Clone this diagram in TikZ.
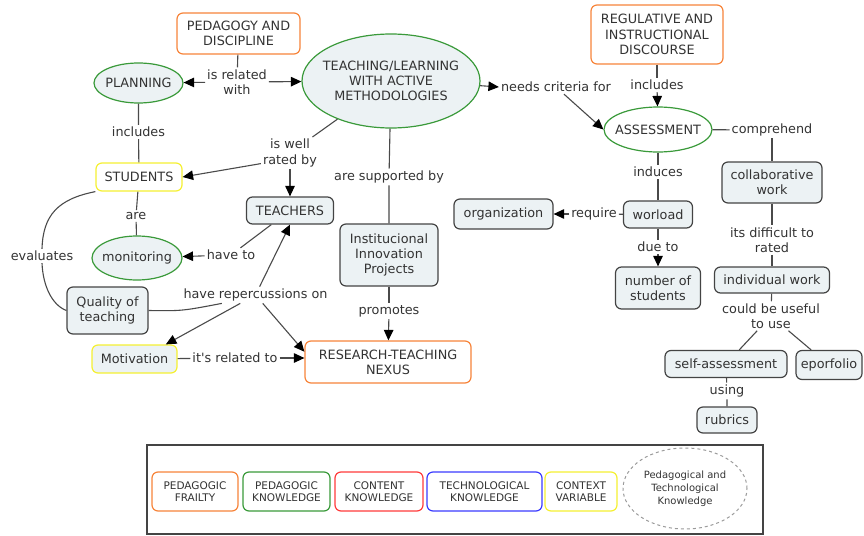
\documentclass[tikz,border=0pt]{standalone}
\usepackage{fontspec}
\setmainfont{DejaVu Sans}
\usetikzlibrary{shapes.geometric,arrows.meta}

\definecolor{ink}{HTML}{333333}
\definecolor{linkgray}{HTML}{4A4A4A}
\definecolor{boxedge}{HTML}{444444}
\definecolor{boxfill}{HTML}{ECF2F4}
\definecolor{corange}{HTML}{F7843A}
\definecolor{cgreen}{HTML}{3A9A3A}
\definecolor{cred}{HTML}{FF3B3B}
\definecolor{cblue}{HTML}{3B3BFF}
\definecolor{cyellow}{HTML}{F5F032}
\definecolor{dashgray}{HTML}{9A9A9A}

\newcommand\mapfont{\fontsize{12.8}{15.2}\selectfont}
\newcommand\keyfont{\fontsize{10.5}{12.5}\selectfont}
\newcommand\keysmall{\fontsize{10}{13}\selectfont}

\tikzset{
  concept/.style={draw, rounded corners=6pt, line width=1.2pt, align=center,
    inner sep=2pt, text=ink, font=\mapfont},
  graybox/.style={concept, draw=boxedge, fill=boxfill},
  orangebox/.style={concept, draw=corange, fill=white},
  yellowbox/.style={concept, draw=cyellow, fill=white},
  % ellipse of fixed size; its text is set as a centred label
  oval/.style={ellipse, draw=cgreen, line width=1.2pt, fill=boxfill, inner sep=0pt,
    label={[align=center, text=ink, font=\mapfont]center:#1}},
  phrase/.style={align=center, inner sep=2pt, text=ink, font=\mapfont},
  link/.style={draw=linkgray, line width=1.1pt},
  arr/.style={link, -{Triangle[length=10.5pt,width=9.5pt,color=black]}},
  keybox/.style={draw, rounded corners=6pt, line width=1.2pt, fill=white, align=center,
    inner sep=1pt, text=ink, font=\keyfont, minimum height=39pt},
}

\begin{document}
\begin{tikzpicture}[x=1pt,y=-1pt]
\useasboundingbox (0,0) rectangle (864,535);

% ---- concepts ----
\node[orangebox, minimum width=123pt, minimum height=41pt] (ped) at (238.5,33.5) {PEDAGOGY AND\\DISCIPLINE};
\node[oval={PLANNING}, minimum width=89pt, minimum height=40pt] (planning) at (138.5,83) {};
\node[oval={TEACHING/LEARNING\\WITH ACTIVE\\METHODOLOGIES}, minimum width=178pt, minimum height=94pt] (teach) at (391,81) {};
\node[orangebox, minimum width=132pt, minimum height=59pt] (regul) at (657,34.5) {REGULATIVE AND\\INSTRUCTIONAL\\DISCOURSE};
\node[oval={ASSESSMENT}, fill=white, minimum width=108pt, minimum height=45pt] (assess) at (658,129.5) {};
\node[yellowbox, minimum width=86pt, minimum height=28pt] (students) at (139,177) {STUDENTS};
\node[graybox, minimum width=87pt, minimum height=27pt] (teachers) at (290,210.5) {TEACHERS};
\node[oval={monitoring}, minimum width=90pt, minimum height=44pt] (monitor) at (137,258) {};
\node[graybox, minimum width=81pt, minimum height=47pt] (quality) at (107.5,310.5) {Quality of\\teaching};
\node[yellowbox, fill=boxfill, minimum width=85pt, minimum height=28pt] (motiv) at (134.5,359) {Motivation};
\node[graybox, minimum width=98pt, minimum height=62pt] (inst) at (389,255) {Institucional\\Innovation\\Projects};
\node[orangebox, minimum width=166pt, minimum height=42pt] (research) at (388,362) {RESEARCH-TEACHING\\NEXUS};
\node[graybox, minimum width=99pt, minimum height=30pt] (organ) at (503.5,214) {organization};
\node[graybox, minimum width=69pt, minimum height=27pt] (work) at (658,214.5) {worload};
\node[graybox, minimum width=100pt, minimum height=41pt] (collab) at (772,182.5) {collaborative\\work};
\node[graybox, minimum width=85pt, minimum height=42pt] (numstud) at (658,288) {number of\\students};
\node[graybox, minimum width=115pt, minimum height=26pt] (indiv) at (772,280) {individual work};
\node[graybox, minimum width=122pt, minimum height=27pt] (self) at (726,364) {self-assessment};
\node[graybox, minimum width=66pt, minimum height=29pt] (epor) at (829,365) {eporfolio};
\node[graybox, minimum width=60pt, minimum height=26pt] (rubrics) at (727,420) {rubrics};

% ---- linking phrases ----
\node[phrase] (rel) at (237,82) {is related\\with};
\node[phrase] (incl) at (138.5,132) {includes};
\node[phrase] (rated) at (290,153) {is well\\rated by};
\node[phrase] (supp) at (389,177) {are supported by};
\node[phrase] (prom) at (389,311) {promotes};
\node[phrase] (needs) at (556,87) {needs criteria for};
\node[phrase] (inclr) at (657,85) {includes};
\node[phrase] (compr) at (772,130) {comprehend};
\node[phrase] (induces) at (658,172) {induces};
\node[phrase] (require) at (594,214) {require};
\node[phrase] (dueto) at (658,247) {due to};
\node[phrase] (hard) at (772,240) {its difficult to\\rated};
\node[phrase] (useful) at (771,316) {could be useful\\to use};
\node[phrase] (using) at (727,391) {using};
\node[phrase] (are) at (136,216) {are};
\node[phrase] (evals) at (42,256) {evaluates};
\node[phrase] (haveto) at (231,255) {have to};
\node[phrase] (reperc) at (255.5,295) {have repercussions on};
\node[phrase] (relto) at (235,358) {it\textquotesingle s related to};

% ---- connectors ----
\draw[link] (ped) -- (rel);
\draw[arr] (rel) -- (planning);
\draw[arr] (rel) -- (teach);
\draw[link] (planning) -- (incl) -- (students);
\draw[link] (teach) -- (rated);
\draw[arr] (rated.200) -- (students.east);
\draw[arr] (rated) -- (teachers);
\draw[link] (teach) -- (supp) -- (inst);
\draw[link] (inst) -- (prom);
\draw[arr] (prom) -- (research);
\draw[arr] (teach.-3) -- (needs.west);
\draw[arr] (needs) -- (assess.west);
\draw[link] (regul) -- (inclr);
\draw[arr] (inclr) -- (assess);
\draw[link] (assess) -- (compr);
\draw[link] (compr) -- (collab);
\draw[link] (assess) -- (induces) -- (work);
\draw[link] (work) -- (require);
\draw[arr] (require) -- (organ);
\draw[link] (work) -- (dueto);
\draw[arr] (dueto) -- (numstud);
\draw[link] (collab) -- (hard) -- (indiv);
\draw[link] (indiv) -- (useful);
\draw[link] (useful) -- (self);
\draw[link] (useful) -- (epor);
\draw[link] (self) -- (using) -- (rubrics);
\draw[link] (students) -- (are) -- (monitor);
\draw[link] (students.south west) .. controls (58,199) and (43,215) .. (evals.north);
\draw[link] (evals.south) .. controls (43,286) and (52,305) .. (quality.west);
\draw[link] (teachers) -- (haveto);
\draw[arr] (haveto) -- (monitor);
\draw[link] (quality.east) .. controls (182,311) .. (reperc.194);
\draw[arr] (reperc) -- (teachers.south);
\draw[arr] (reperc) -- (motiv.25);
\draw[arr] (reperc) -- (research.173);
\draw[link] (motiv) -- (relto);
\draw[arr] (relto) -- (relto -| research.west);

% ---- key ----
\node[draw=boxedge, line width=1.3pt, minimum width=616pt, minimum height=89pt] (key) at (455,489.5) {};
\node[keybox, draw=corange, minimum width=86pt] (kfrail) at (195,491.5) {PEDAGOGIC\\FRAILTY};
\node[keybox, draw=cgreen, minimum width=87pt] (kped) at (286.5,491.5) {PEDAGOGIC\\KNOWLEDGE};
\node[keybox, draw=cred, minimum width=88pt] (kcont) at (379,491.5) {CONTENT\\KNOWLEDGE};
\node[keybox, draw=cblue, minimum width=115pt] (ktech) at (484.5,491.5) {TECHNOLOGICAL\\KNOWLEDGE};
\node[keybox, draw=cyellow, minimum width=72pt] (kctx) at (581,491.5) {CONTEXT\\VARIABLE};
\node[ellipse, draw=dashgray, dashed, line width=1pt, minimum width=124pt, minimum height=81pt,
  inner sep=0pt, label={[align=center, text=ink, font=\keysmall]center:Pedagogical and\\Technological\\Knowledge}] (kpt) at (685,488.5) {};
\end{tikzpicture}
\end{document}
